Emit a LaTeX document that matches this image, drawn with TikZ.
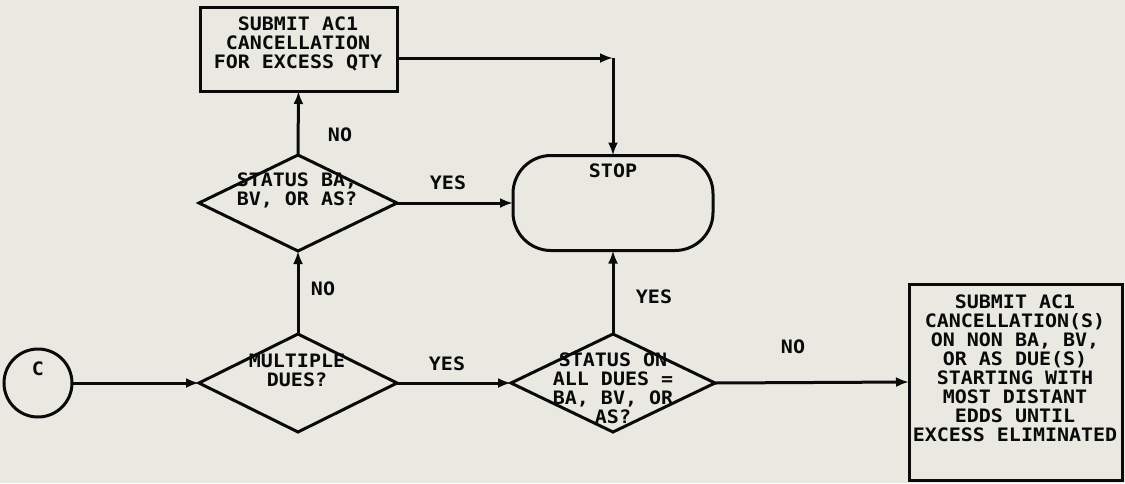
\documentclass[tikz,border=0pt]{standalone}
\usepackage{fontspec}
\usetikzlibrary{shapes.geometric,arrows.meta}
\newfontfamily\plotfont[FakeStretch=1.08]{DejaVu Sans Mono}
\definecolor{paper}{RGB}{233,233,226}
\definecolor{ink}{RGB}{10,10,10}
\begin{document}
\begin{tikzpicture}[x=1pt,y=-1pt,
  line width=3pt, draw=ink,
  every node/.style={outer sep=0pt,inner sep=0pt},
  txt/.style={font=\plotfont\bfseries\fontsize{18.5}{19}\selectfont, align=center, text=ink},
  arr/.style={draw=ink,-{Latex[length=13pt,width=10pt]}},
  dec/.style={draw=ink, diamond, minimum height=98pt},
  boxnode/.style={draw=ink, rectangle}
]
\fill[paper] (0,0) rectangle (1125,483);
\useasboundingbox (0,0) rectangle (1125,483);

% shapes
\node[draw=ink,circle,minimum size=68pt] (c) at (38,383) {};
\node[txt] (ct) at (38,369) {C};

\node[dec, minimum width=198pt] (d1) at (298,383) {};
\node[txt] (d1t) at (297,370) {MULTIPLE\\DUES?};

\node[dec, minimum width=198pt, minimum height=96pt] (d2) at (298,203) {};
\node[txt] (d2t) at (297,190) {STATUS BA,\\BV, OR AS?};

\node[boxnode, minimum width=197pt, minimum height=84pt] (b1) at (298.5,49) {};
\node[txt] (b1t) at (298,44) {SUBMIT AC1\\CANCELLATION\\FOR EXCESS QTY};

\node[boxnode, rounded corners=38pt, minimum width=200pt, minimum height=95pt] (stop) at (613,203) {};
\node[txt] (stopt) at (613,171) {STOP};

\node[dec, minimum width=204pt] (d3) at (613,383) {};
\node[txt] (d3t) at (613,388) {STATUS ON\\ALL DUES =\\BA, BV, OR\\AS?};

\node[boxnode, minimum width=213pt, minimum height=196pt] (b3) at (1015.5,382) {};
\node[txt] (b3t) at (1015,368) {SUBMIT AC1\\CANCELLATION(S)\\ON NON BA, BV,\\OR AS DUE(S)\\STARTING WITH\\MOST DISTANT\\EDDS UNTIL\\EXCESS ELIMINATED};

\coordinate (corner) at (613,58);

% connectors
\draw[arr] (c) -- (d1.west);
\draw[arr] (d1.north) -- (d2.south);
\draw[arr] (d2.north) -- (b1.south);
\draw[arr] (d2.east) -- (stop.west);
\draw[arr] (corner -| b1.east) -- (corner);
\draw[arr] (corner) -- (stop.north);
\draw[arr] (d1.east) -- (d3.west);
\draw[arr] (d3.north) -- (stop.south);
\draw[arr] (d3.east) -- (b3.west);

% labels
\node[txt] (l1) at (323,289) {NO};
\node[txt] (l2) at (340,135) {NO};
\node[txt] (l3) at (448,183) {YES};
\node[txt] (l4) at (447,364) {YES};
\node[txt] (l5) at (654,297) {YES};
\node[txt] (l6) at (793,347) {NO};
\end{tikzpicture}
\end{document}
